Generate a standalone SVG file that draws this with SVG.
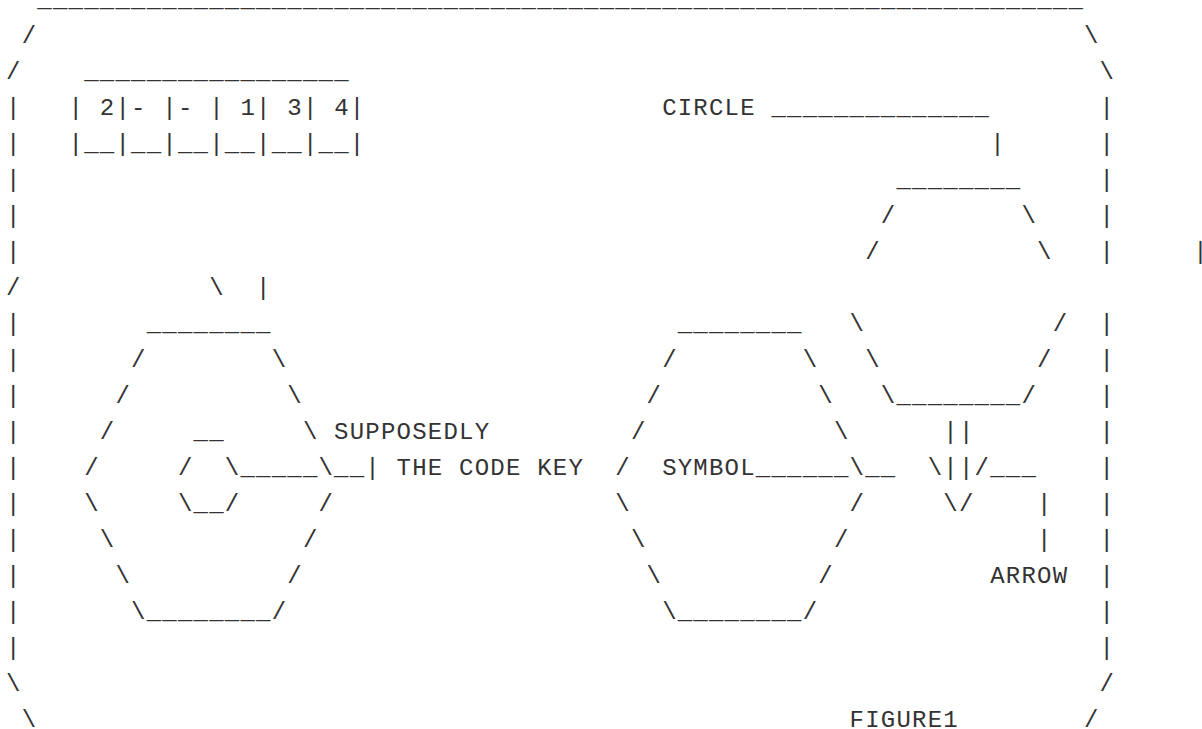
<svg xmlns="http://www.w3.org/2000/svg" width="1202" height="729" viewBox="0 0 1202 729">
<style>
text { font-family: "Liberation Mono", "DejaVu Sans Mono", monospace; font-size: 24px; letter-spacing: 1.22px; fill: #333333; white-space: pre; }
</style>
<rect width="1202" height="729" fill="#ffffff"/>
<g id="frame">
<text x="37.34" y="6.5">___________________________________________________________________</text>
<text x="21.72" y="42.5">/</text><text x="1083.88" y="42.5">\</text>
<text x="6.1" y="78.5">/</text><text x="1099.5" y="78.5">\</text>
<text x="6.1" y="114.5">|</text><text x="1099.5" y="114.5">|</text>
<text x="6.1" y="150.5">|</text><text x="1099.5" y="150.5">|</text>
<text x="6.1" y="186.5">|</text><text x="1099.5" y="186.5">|</text>
<text x="6.1" y="222.5">|</text><text x="1099.5" y="222.5">|</text>
<text x="6.1" y="258.5">|</text><text x="1099.5" y="258.5">|</text><text x="1193.22" y="258.5">|</text>
<text x="6.1" y="294.5">/</text>
<text x="6.1" y="330.5">|</text><text x="1099.5" y="330.5">|</text>
<text x="6.1" y="366.5">|</text><text x="1099.5" y="366.5">|</text>
<text x="6.1" y="402.5">|</text><text x="1099.5" y="402.5">|</text>
<text x="6.1" y="438.5">|</text><text x="1099.5" y="438.5">|</text>
<text x="6.1" y="474.5">|</text><text x="1099.5" y="474.5">|</text>
<text x="6.1" y="510.5">|</text><text x="1099.5" y="510.5">|</text>
<text x="6.1" y="546.5">|</text><text x="1099.5" y="546.5">|</text>
<text x="6.1" y="582.5">|</text><text x="1099.5" y="582.5">|</text>
<text x="6.1" y="618.5">|</text><text x="1099.5" y="618.5">|</text>
<text x="6.1" y="654.5">|</text><text x="1099.5" y="654.5">|</text>
<text x="6.1" y="690.5">\</text><text x="1099.5" y="690.5">/</text>
<text x="21.72" y="726.5">\</text><text x="1083.88" y="726.5">/</text>
</g>
<g id="code-table">
<text x="84.2" y="78.5">_________________</text>
<text x="68.58" y="114.5">| 2|- |- | 1| 3| 4|</text>
<text x="68.58" y="150.5">|__|__|__|__|__|__|</text>
</g>
<g id="circle">
<text x="896.44" y="186.5">________</text>
<text x="880.82" y="222.5">/</text><text x="1021.4" y="222.5">\</text>
<text x="865.2" y="258.5">/</text><text x="1037.02" y="258.5">\</text>
<text x="849.58" y="330.5">\</text><text x="1052.64" y="330.5">/</text>
<text x="865.2" y="366.5">\</text><text x="1037.02" y="366.5">/</text>
<text x="880.82" y="402.5">\________/</text>
</g>
<g id="code-key">
<text x="146.68" y="330.5">________</text>
<text x="131.06" y="366.5">/</text><text x="271.64" y="366.5">\</text>
<text x="115.44" y="402.5">/</text><text x="287.26" y="402.5">\</text>
<text x="99.82" y="438.5">/</text><text x="302.88" y="438.5">\</text>
<text x="84.2" y="474.5">/</text><text x="318.5" y="474.5">\</text>
<text x="84.2" y="510.5">\</text><text x="318.5" y="510.5">/</text>
<text x="99.82" y="546.5">\</text><text x="302.88" y="546.5">/</text>
<text x="115.44" y="582.5">\</text><text x="287.26" y="582.5">/</text>
<text x="131.06" y="618.5">\________/</text>
<text x="193.54" y="438.5">__</text>
<text x="177.92" y="474.5">/  \</text>
<text x="177.92" y="510.5">\__/</text>
</g>
<g id="symbol">
<text x="677.76" y="330.5">________</text>
<text x="662.14" y="366.5">/</text><text x="802.72" y="366.5">\</text>
<text x="646.52" y="402.5">/</text><text x="818.34" y="402.5">\</text>
<text x="630.9" y="438.5">/</text><text x="833.96" y="438.5">\</text>
<text x="615.28" y="474.5">/</text><text x="849.58" y="474.5">\</text>
<text x="615.28" y="510.5">\</text><text x="849.58" y="510.5">/</text>
<text x="630.9" y="546.5">\</text><text x="833.96" y="546.5">/</text>
<text x="646.52" y="582.5">\</text><text x="818.34" y="582.5">/</text>
<text x="662.14" y="618.5">\________/</text>
</g>
<g id="arrow">
<text x="943.3" y="438.5">||</text>
<text x="927.68" y="474.5">\||/</text>
<text x="943.3" y="510.5">\/</text>
</g>
<g id="marks">
<text x="209.16" y="294.5">\</text><text x="256.02" y="294.5">|</text>
</g>
<g id="connectors">
<text x="771.48" y="114.5">______________</text>
<text x="990.16" y="150.5">|</text>
<text x="240.4" y="474.5">_____</text>
<text x="334.12" y="474.5">__|</text>
<text x="755.86" y="474.5">______</text>
<text x="865.2" y="474.5">__</text>
<text x="990.16" y="474.5">___</text>
<text x="1037.02" y="510.5">|</text>
<text x="1037.02" y="546.5">|</text>
</g>
<g id="labels">
<text x="662.14" y="114.5">CIRCLE</text>
<text x="334.12" y="438.5">SUPPOSEDLY</text>
<text x="396.6" y="474.5">THE CODE KEY</text>
<text x="662.14" y="474.5">SYMBOL</text>
<text x="990.16" y="582.5">ARROW</text>
<text x="849.58" y="726.5">FIGURE1</text>
</g>
</svg>
